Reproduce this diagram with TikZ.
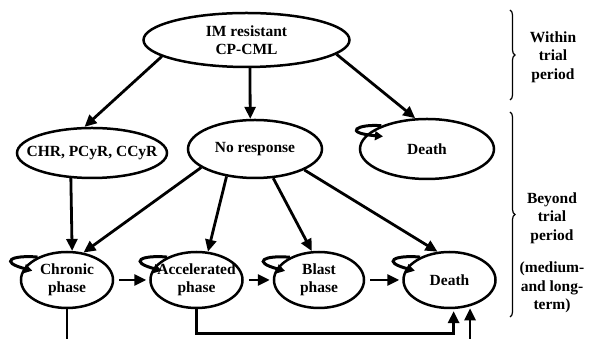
\documentclass[tikz,border=0pt]{standalone}
\usepackage{fontspec}
\setmainfont{Liberation Serif}
\usetikzlibrary{arrows.meta,positioning,calc,shapes.geometric,decorations.pathreplacing}
\newcommand{\statefont}{\fontsize{15.5}{18.5}\selectfont\bfseries}
\tikzset{
  state/.style={ellipse, draw, line width=2.5pt, inner xsep=-22pt, inner ysep=-6pt,
    align=center, font=\statefont},
  wire/.style={-{Triangle[length=12pt,width=11pt]}, line width=2.8pt},
  stepwire/.style={wire, shorten <=5pt, shorten >=3pt},
  basewire/.style={wire, line width=3.3pt, shorten >=2pt},
  selfwire/.style={-{Triangle[length=8pt,width=9pt]}, line width=3pt, shorten >=-9pt},
  period/.style={decorate, decoration={brace, amplitude=5pt}, line width=1.2pt},
  periodtext/.style={align=center, font=\statefont}
}
\begin{document}
\begin{tikzpicture}[x=1pt, y=1pt]
  \useasboundingbox (0,0) rectangle (600,339);
  % within the trial
  \node[state, minimum width=206pt, minimum height=54pt] (im) at (246.5,299) {IM resistant\\CP-CML};
  \node[state, minimum width=150pt, minimum height=50pt] (chr) at (92,186) {CHR, PCyR, CCyR};
  \node[state, minimum width=134pt, minimum height=58pt] (nores) at (255,190) {No response};
  \node[state, minimum width=134pt, minimum height=60pt] (death1) at (427,190) {Death};
  % beyond the trial
  \node[state, minimum width=92pt, minimum height=56pt] (chronic) at (67,59) {Chronic\\phase};
  \node[state, minimum width=92pt, minimum height=56pt, right=35pt of chronic] (accel) {Accelerated\\phase};
  \node[state, minimum width=90pt, minimum height=56pt, right=29pt of accel] (blast) {Blast\\phase};
  \node[state, minimum width=92pt, minimum height=56pt, right=37pt of blast] (death2) {Death};

  \draw[wire] (im.191) -- (chr.106);
  \draw[wire] (im.277) -- (nores.99);
  \draw[wire] (im.351) -- (death1.111);
  \draw[wire] (chr.230) -- (chronic.80);
  \draw[wire] (nores.199) -- (chronic.59);
  \draw[wire] (nores.224) -- (accel.68);
  \draw[wire] (nores.302) -- (blast.104);
  \draw[wire] (nores.337) -- (death2.113);
  \draw[stepwire] (chronic.east) -- (accel.west);
  \draw[stepwire] (accel.east) -- (blast.west);
  \draw[stepwire] (blast.east) -- (death2.west);
  \draw[wire, shorten >=2pt] (chronic.south) -- ++(0,-31) -| (death2.308);
  \draw[basewire] (accel.south) -- ++(0,-24) -| (death2.278);

  % staying in the same state
  \draw[selfwire] (chronic.142) to[out=175, in=165, distance=26pt] (chronic.165);
  \draw[selfwire] (accel.142) to[out=175, in=165, distance=26pt] (accel.165);
  \draw[selfwire] (blast.142) to[out=175, in=165, distance=26pt] (blast.165);
  \draw[selfwire] (death2.142) to[out=175, in=165, distance=26pt] (death2.165);
  \draw[selfwire, shorten >=-17pt] (death1.153) to[out=175, in=175, distance=24pt] (death1.167);

  % periods
  \coordinate (wtop) at (510,329);
  \coordinate (wbot) at (510,239);
  \coordinate (btop) at (510,227);
  \coordinate (bbot) at (510,22);
  \draw[period] (wtop) -- (wbot);
  \draw[period] (btop) -- (bbot);
  \node[periodtext] (within) at (553,282) {Within\\trial\\period};
  \node[periodtext] (beyond) at (552,121) {Beyond\\trial\\period};
  \node[periodtext] (horizon) at (552,51.5) {(medium-\\and long-\\term)};
\end{tikzpicture}
\end{document}
